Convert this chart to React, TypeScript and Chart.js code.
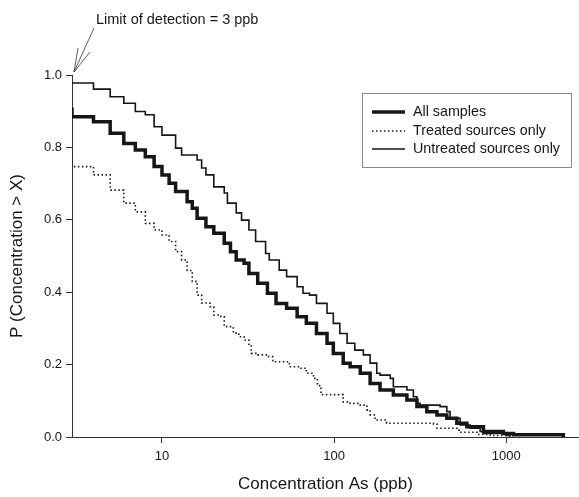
import React, { useEffect, useRef } from "react";
import { Chart, registerables } from "chart.js";

Chart.register(...registerables);

const DETECTION_LIMIT = 3;
const X_MAX = 2650;
const X_TICKS = [10, 100, 1000];
const Y_TICKS = [0, 0.2, 0.4, 0.6, 0.8, 1.0];

const SERIES_LABELS = ["All samples", "Treated sources only", "Untreated sources only"];

const allConc = [3, 3, 4, 5, 6, 7, 8, 9, 10, 11, 12, 14, 15, 16, 18, 20, 23, 25, 27, 30, 32, 36, 41, 46, 53, 61, 69, 79, 91, 99, 113, 124, 142, 162, 185, 221, 265, 303, 346, 396, 452, 517, 591, 738, 964, 1102, 2150, 2150];
const allP = [0.91, 0.885, 0.871, 0.839, 0.811, 0.793, 0.774, 0.747, 0.724, 0.701, 0.678, 0.65, 0.632, 0.604, 0.581, 0.563, 0.535, 0.512, 0.489, 0.48, 0.452, 0.425, 0.397, 0.369, 0.356, 0.332, 0.314, 0.286, 0.259, 0.231, 0.204, 0.194, 0.176, 0.148, 0.13, 0.116, 0.102, 0.084, 0.07, 0.061, 0.052, 0.038, 0.028, 0.015, 0.01, 0.006, 0.003, 0];

const treatedConc = [3, 3, 4, 5, 6, 7, 8, 9, 10, 11, 12, 13, 14, 15, 16, 17, 19, 20, 22, 23, 25, 26, 28, 30, 32, 33, 36, 41, 44, 55, 63, 69, 76, 80, 84, 113, 124, 142, 155, 162, 173, 202, 378, 396, 517, 540, 676, 808, 1000];
const treatedP = [0.775, 0.747, 0.724, 0.682, 0.646, 0.622, 0.59, 0.572, 0.558, 0.54, 0.512, 0.489, 0.46, 0.43, 0.392, 0.37, 0.36, 0.337, 0.332, 0.305, 0.301, 0.287, 0.277, 0.268, 0.254, 0.231, 0.227, 0.222, 0.208, 0.194, 0.19, 0.176, 0.162, 0.142, 0.117, 0.097, 0.093, 0.088, 0.075, 0.061, 0.047, 0.038, 0.036, 0.024, 0.019, 0.013, 0.007, 0.004, 0];

const untreatedConc = [3, 4, 5, 6, 7, 8, 9, 10, 12, 13, 16, 17, 18, 20, 23, 24, 27, 29, 32, 35, 40, 42, 48, 53, 61, 66, 72, 79, 91, 99, 108, 119, 132, 148, 162, 177, 185, 212, 221, 265, 289, 303, 316, 413, 452, 472, 540, 618, 706, 738, 1009, 1050];
const untreatedP = [0.978, 0.961, 0.94, 0.922, 0.899, 0.89, 0.857, 0.834, 0.798, 0.779, 0.765, 0.743, 0.724, 0.691, 0.674, 0.646, 0.619, 0.599, 0.572, 0.54, 0.507, 0.489, 0.461, 0.443, 0.415, 0.397, 0.392, 0.369, 0.342, 0.314, 0.286, 0.259, 0.24, 0.227, 0.204, 0.176, 0.171, 0.162, 0.139, 0.13, 0.111, 0.093, 0.088, 0.084, 0.07, 0.052, 0.033, 0.024, 0.015, 0.01, 0.004, 0];

const FONT = '"Liberation Sans", Arial, Helvetica, sans-serif';
const INK = "#161616";

const toPoints = (xs: number[], ys: number[]) => xs.map((x, i) => ({ x, y: ys[i] }));

const boxLegend = {
  id: "boxLegend",
  afterDraw(chart: any) {
    const ctx = chart.ctx;
    ctx.save();
    ctx.strokeStyle = "#8a8a8a";
    ctx.lineWidth = 1;
    ctx.strokeRect(362.5, 93.5, 209, 74);
    const rows = [112, 131, 149];
    chart.data.datasets.forEach((ds: any, i: number) => {
      const y = rows[i];
      ctx.beginPath();
      ctx.setLineDash(ds.borderDash || []);
      ctx.lineWidth = ds.borderWidth;
      ctx.strokeStyle = ds.borderColor;
      ctx.moveTo(372, y);
      ctx.lineTo(405, y);
      ctx.stroke();
      ctx.setLineDash([]);
      ctx.fillStyle = INK;
      ctx.font = `14.3px ${FONT}`;
      ctx.textBaseline = "middle";
      ctx.textAlign = "left";
      ctx.fillText(ds.label, 413, y);
    });
    ctx.restore();
  },
};

const detectionNote = {
  id: "detectionNote",
  afterDraw(chart: any) {
    const ctx = chart.ctx;
    const x = chart.scales.x.getPixelForValue(DETECTION_LIMIT);
    const y = chart.scales.y.getPixelForValue(1);
    ctx.save();
    ctx.strokeStyle = "#333";
    ctx.lineWidth = 0.8;
    ctx.beginPath();
    ctx.moveTo(x + 22, y - 47);
    ctx.lineTo(x + 2, y - 3);
    ctx.lineTo(x + 6, y - 27);
    ctx.moveTo(x + 2, y - 3);
    ctx.lineTo(x + 18, y - 23);
    ctx.stroke();
    ctx.fillStyle = INK;
    ctx.font = `14.5px ${FONT}`;
    ctx.textBaseline = "middle";
    ctx.textAlign = "left";
    ctx.fillText(`Limit of detection = ${DETECTION_LIMIT} ppb`, 96, 20);
    ctx.restore();
  },
};

export default function App() {
  const ref = useRef<HTMLCanvasElement | null>(null);
  useEffect(() => {
    if (!ref.current) return;
    const chart = new Chart(ref.current, {
      type: "line",
      data: {
        datasets: [
          {
            label: SERIES_LABELS[0],
            data: toPoints(allConc, allP),
            borderColor: INK,
            borderWidth: 3.5,
            stepped: true,
            pointRadius: 0,
            fill: false,
          },
          {
            label: SERIES_LABELS[1],
            data: toPoints(treatedConc, treatedP),
            borderColor: INK,
            borderWidth: 1.6,
            borderDash: [1.5, 2.5],
            stepped: true,
            pointRadius: 0,
            fill: false,
          },
          {
            label: SERIES_LABELS[2],
            data: toPoints(untreatedConc, untreatedP),
            borderColor: INK,
            borderWidth: 1.6,
            stepped: true,
            pointRadius: 0,
            fill: false,
          },
        ],
      },
      options: {
        responsive: false,
        animation: false,
        devicePixelRatio: 1,
        layout: { padding: { top: 75, right: 0, bottom: 0, left: 0 } },
        plugins: { legend: { display: false }, tooltip: { enabled: false } },
        scales: {
          x: {
            type: "logarithmic",
            min: DETECTION_LIMIT,
            max: X_MAX,
            afterBuildTicks: (s: any) => {
              s.ticks = X_TICKS.map((v) => ({ value: v }));
            },
            afterFit: (s: any) => {
              s.height = 60;
            },
            grid: { drawOnChartArea: false, drawTicks: true, tickLength: 6, tickColor: "#333" },
            border: { display: true, color: "#333", width: 1 },
            ticks: {
              autoSkip: false,
              maxRotation: 0,
              padding: 6,
              color: INK,
              font: { family: FONT, size: 13 },
              callback: (v: any) => String(v),
            },
            title: {
              display: true,
              text: "Concentration As (ppb)",
              color: INK,
              font: { family: FONT, size: 17 },
              padding: { top: 0, bottom: 2 },
            },
          },
          y: {
            type: "linear",
            min: 0,
            max: 1,
            afterBuildTicks: (s: any) => {
              s.ticks = Y_TICKS.map((v) => ({ value: v }));
            },
            afterFit: (s: any) => {
              s.width = 72;
            },
            grid: { drawOnChartArea: false, drawTicks: true, tickLength: 6, tickColor: "#333" },
            border: { display: true, color: "#333", width: 1 },
            ticks: {
              padding: 4,
              color: INK,
              font: { family: FONT, size: 13 },
              callback: (v: any) => Number(v).toFixed(1),
            },
            title: {
              display: true,
              text: "P (Concentration > X)",
              color: INK,
              font: { family: FONT, size: 17 },
              padding: { top: 7, bottom: 0 },
            },
          },
        },
      },
      plugins: [boxLegend, detectionNote],
    } as any);
    return () => chart.destroy();
  }, []);
  return (
    <div style={{ position: "absolute", left: 0, top: 0, width: 579, height: 497, background: "#fff" }}>
      <canvas ref={ref} width={579} height={497} />
    </div>
  );
}
